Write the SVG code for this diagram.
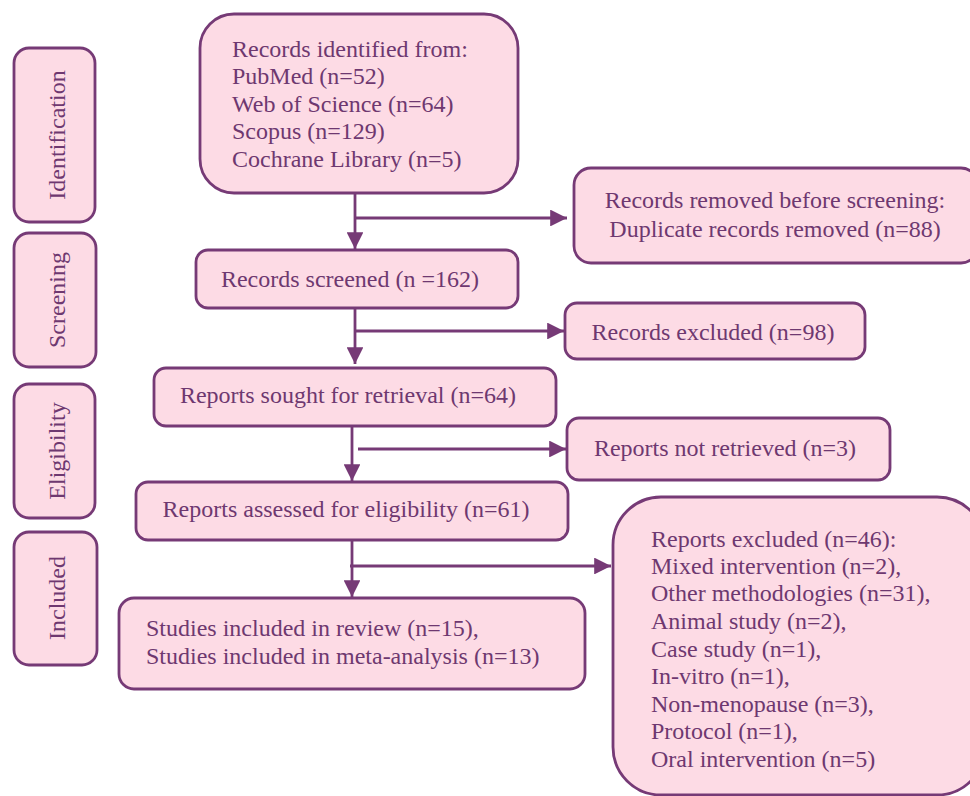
<svg xmlns="http://www.w3.org/2000/svg" width="970" height="796" viewBox="0 0 970 796">
<defs>
<style>
.box{fill:#fddbe5;stroke:#763a76;stroke-width:2.8}
.t{font-family:"Liberation Serif","Times New Roman",serif;font-size:24px;fill:#6e3870}
.c{text-anchor:middle}
.ln{stroke:#763a76;stroke-width:2.8;fill:none}
</style>
<marker id="ah" viewBox="0 0 10 10" refX="10" refY="5" markerWidth="6.5" markerHeight="6" markerUnits="strokeWidth" orient="auto">
<path d="M0,0 L10,5 L0,10 Z" fill="#763a76"/>
</marker>
</defs>
<rect width="970" height="796" fill="#ffffff"/>
<g id="stage-identification">
<rect class="box" x="14" y="48" width="81" height="174" rx="15"/>
<text class="t c" transform="translate(65,135) rotate(-90)">Identification</text>
</g>
<g id="stage-screening">
<rect class="box" x="14" y="233" width="82" height="134" rx="15"/>
<text class="t c" transform="translate(65,300) rotate(-90)">Screening</text>
</g>
<g id="stage-eligibility">
<rect class="box" x="14" y="384" width="81" height="134" rx="15"/>
<text class="t c" transform="translate(65,451) rotate(-90)">Eligibility</text>
</g>
<g id="stage-included">
<rect class="box" x="14" y="532" width="83" height="133" rx="15"/>
<text class="t c" transform="translate(65,598) rotate(-90)">Included</text>
</g>
<g id="records-identified">
<rect class="box" x="200" y="14" width="318" height="179" rx="34"/>
<text class="t" x="232" y="57">Records identified from:</text>
<text class="t" x="232" y="84">PubMed (n=52)</text>
<text class="t" x="232" y="112">Web of Science (n=64)</text>
<text class="t" x="232" y="139">Scopus (n=129)</text>
<text class="t" x="232" y="167">Cochrane Library (n=5)</text>
</g>
<g id="records-removed">
<rect class="box" x="574" y="168" width="404" height="95" rx="17"/>
<text class="t c" x="775" y="208">Records removed before screening:</text>
<text class="t c" x="775" y="237">Duplicate records removed (n=88)</text>
</g>
<g id="records-screened">
<rect class="box" x="196" y="250" width="322" height="58" rx="12"/>
<text class="t c" x="350" y="287">Records screened (n =162)</text>
</g>
<g id="records-excluded">
<rect class="box" x="565" y="303" width="300" height="56" rx="12"/>
<text class="t c" x="713" y="340">Records excluded (n=98)</text>
</g>
<g id="reports-sought">
<rect class="box" x="154" y="368" width="402" height="58" rx="12"/>
<text class="t c" x="348" y="403">Reports sought for retrieval (n=64)</text>
</g>
<g id="reports-not-retrieved">
<rect class="box" x="567" y="418" width="323" height="62" rx="12"/>
<text class="t c" x="725" y="456">Reports not retrieved (n=3)</text>
</g>
<g id="reports-assessed">
<rect class="box" x="136" y="482" width="432" height="58" rx="12"/>
<text class="t c" x="346" y="517">Reports assessed for eligibility (n=61)</text>
</g>
<g id="reports-excluded">
<rect class="box" x="613" y="497" width="372" height="298" rx="48"/>
<text class="t" x="651" y="547">Reports excluded (n=46):</text>
<text class="t" x="651" y="574">Mixed intervention (n=2),</text>
<text class="t" x="651" y="601">Other methodologies (n=31),</text>
<text class="t" x="651" y="629">Animal study (n=2),</text>
<text class="t" x="651" y="657">Case study (n=1),</text>
<text class="t" x="651" y="684">In-vitro (n=1),</text>
<text class="t" x="651" y="712">Non-menopause (n=3),</text>
<text class="t" x="651" y="739">Protocol (n=1),</text>
<text class="t" x="651" y="767">Oral intervention (n=5)</text>
</g>
<g id="studies-included">
<rect class="box" x="119" y="598" width="466" height="91" rx="15"/>
<text class="t" x="146" y="636">Studies included in review (n=15),</text>
<text class="t" x="146" y="664">Studies included in meta-analysis (n=13)</text>
</g>
<g id="connectors">
<line class="ln" x1="355" y1="193" x2="355" y2="249" marker-end="url(#ah)"/>
<line class="ln" x1="355" y1="218" x2="567" y2="218" marker-end="url(#ah)"/>
<line class="ln" x1="355" y1="308" x2="355" y2="364" marker-end="url(#ah)"/>
<line class="ln" x1="355" y1="331" x2="564" y2="331" marker-end="url(#ah)"/>
<line class="ln" x1="352" y1="426" x2="352" y2="481" marker-end="url(#ah)"/>
<line class="ln" x1="358" y1="449" x2="566" y2="449" marker-end="url(#ah)"/>
<line class="ln" x1="352" y1="540" x2="352" y2="597" marker-end="url(#ah)"/>
<line class="ln" x1="350" y1="566" x2="611" y2="566" marker-end="url(#ah)"/>
</g>
</svg>
